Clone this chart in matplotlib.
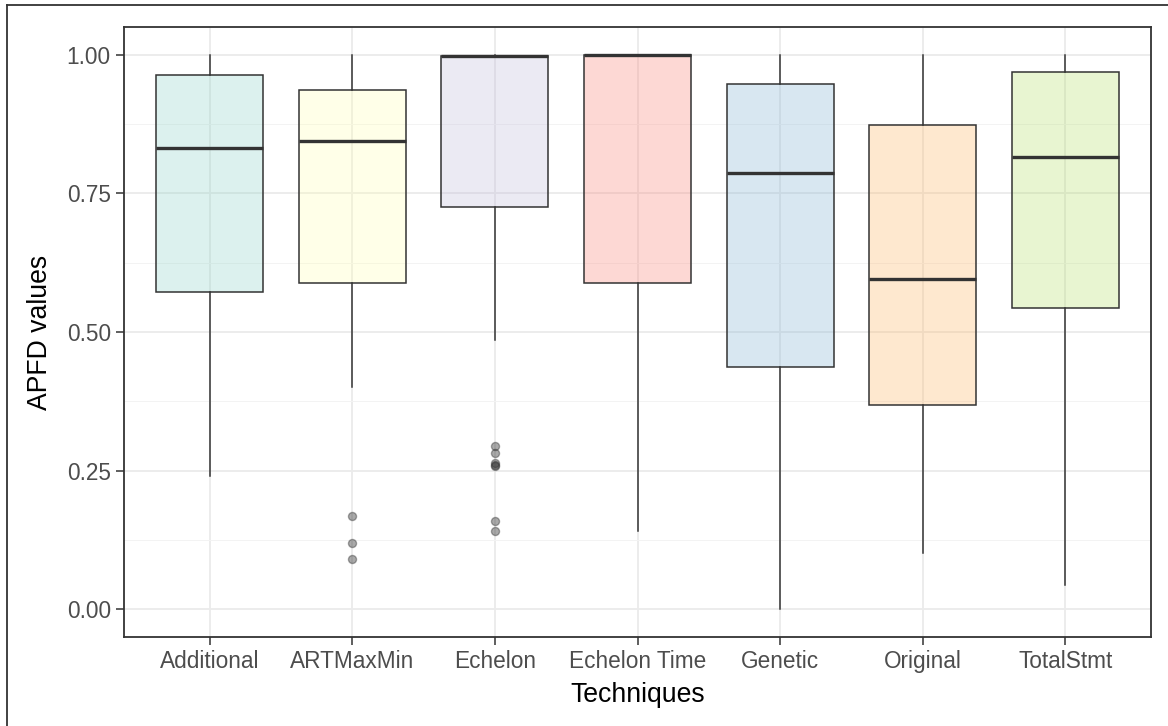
import matplotlib
matplotlib.use("Agg")
import matplotlib.pyplot as plt
from matplotlib.lines import Line2D
from matplotlib.ticker import FixedLocator

plt.rcParams['font.family'] = ['Liberation Sans', 'DejaVu Sans']

techniques = ["Additional", "ARTMaxMin", "Echelon", "Echelon Time", "Genetic", "Original", "TotalStmt"]
whisker_low = [0.241, 0.400, 0.485, 0.142, 0.000, 0.101, 0.043]
q1 = [0.573, 0.589, 0.726, 0.589, 0.436, 0.369, 0.544]
median = [0.832, 0.845, 0.998, 1.000, 0.787, 0.596, 0.816]
q3 = [0.964, 0.937, 0.997, 1.000, 0.948, 0.874, 0.969]
whisker_high = [1.000, 1.000, 1.000, 1.000, 1.000, 1.000, 1.000]
outliers = [
    [],
    [0.169, 0.119, 0.090],
    [0.295, 0.281, 0.261, 0.259, 0.263, 0.159, 0.141],
    [],
    [],
    [],
    [],
]
fill_colors = ["#8DD3C7", "#FFFFB3", "#BEBADA", "#FB8072", "#80B1D3", "#FDB462", "#B3DE69"]
y_ticks = [0.00, 0.25, 0.50, 0.75, 1.00]
y_tick_labels = ["0.00", "0.25", "0.50", "0.75", "1.00"]

W, H = 1168, 726
fig = plt.figure(figsize=(W / 100, H / 100), dpi=100)
ax = fig.add_axes([124 / W, 1 - 637 / H, (1151 - 124) / W, (637 - 27) / H])

stats = []
for i, name in enumerate(techniques):
    stats.append(dict(label=name, whislo=whisker_low[i], q1=q1[i], med=median[i],
                      q3=max(q3[i], median[i]) if False else q3[i], whishi=whisker_high[i], fliers=outliers[i]))

positions = list(range(1, len(techniques) + 1))
edge = "#333333"
bp = ax.bxp(stats, positions=positions, widths=0.75, patch_artist=True, showcaps=False,
            boxprops=dict(edgecolor=edge, linewidth=1.1),
            whiskerprops=dict(color=edge, linewidth=1.1),
            medianprops=dict(color=edge, linewidth=2.4, solid_capstyle='butt'),
            flierprops=dict(marker='o', markersize=5.8, markerfacecolor=edge,
                            markeredgecolor=edge, alpha=0.42, linestyle='none'),
            zorder=3)
for patch, c in zip(bp['boxes'], fill_colors):
    r, g, b = matplotlib.colors.to_rgb(c)
    a = 0.3
    patch.set_facecolor((r, g, b, a))
    patch.set_edgecolor(edge)

ax.set_xlim(0.4, len(techniques) + 0.6)
ax.set_ylim(-0.05, 1.05)
ax.set_xticks(positions)
ax.set_xticklabels(techniques)
ax.set_yticks(y_ticks)
ax.set_yticklabels(y_tick_labels)
ax.yaxis.set_minor_locator(FixedLocator([0.125, 0.375, 0.625, 0.875]))

ax.grid(True, which='major', color='#EBEBEB', linewidth=1.3, zorder=0)
ax.grid(True, which='minor', axis='y', color='#F3F3F3', linewidth=0.7, zorder=0)
ax.set_axisbelow(True)
ax.tick_params(axis='both', which='major', length=6, width=1.1, color=edge,
               labelsize=16.3, labelcolor='#4D4D4D', pad=3.5)
ax.tick_params(axis='both', which='minor', length=0)
for sp in ax.spines.values():
    sp.set_color(edge)
    sp.set_linewidth(1.3)

ax.set_xlabel("Techniques", fontsize=19.2, color='black', labelpad=6)
ax.set_ylabel("APFD values", fontsize=19.2, color='black', labelpad=10)

# outer border of the image
fig.add_artist(Line2D([7 / W, 1.0], [1 - 5 / H, 1 - 5 / H], color='#333333', linewidth=1.3,
                      transform=fig.transFigure))
fig.add_artist(Line2D([7 / W, 7 / W], [1 - 5 / H, 0.0], color='#333333', linewidth=1.3,
                      transform=fig.transFigure))

fig.savefig("out.png", dpi=100)
